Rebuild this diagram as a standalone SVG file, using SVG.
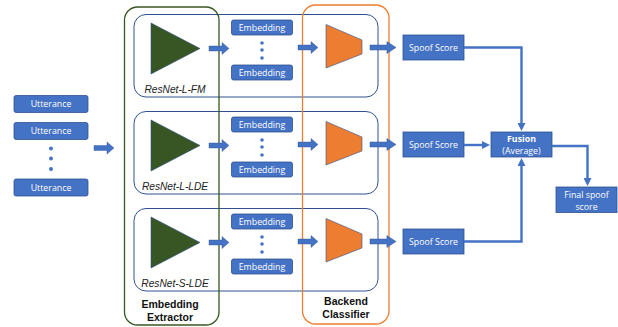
<svg xmlns="http://www.w3.org/2000/svg" width="618" height="327" viewBox="0 0 618 327">
  <defs>
    <style>
      .box { fill: #4472C4; stroke: #2F528F; stroke-width: 0.8; }
      .txt { fill: #FFFFFF; font-family: "Open Sans", "Liberation Sans", sans-serif; font-size: 8.8px; text-anchor: middle; }
      .row { fill: none; stroke: #2F528F; stroke-width: 1; }
      .net { fill: #375623; stroke: #2F528F; stroke-width: 0.6; }
      .cls { fill: #ED7D31; stroke: #2F528F; stroke-width: 0.6; }
      .blk { fill: #4472C4; stroke: #2F528F; stroke-width: 0.4; }
      .dot { fill: #4472C4; }
      .lbl { fill: #222222; font-family: "Liberation Sans", Arial, sans-serif; font-size: 10.2px; font-style: italic; text-anchor: middle; }
      .grp { fill: #111111; font-family: "Liberation Sans", Arial, sans-serif; font-size: 10.5px; font-weight: bold; text-anchor: middle; }
      .wire { fill: none; stroke: #4472C4; stroke-width: 2.4; }
    </style>
    <!-- block arrow pointing right, origin at tail centre, 20 long -->
    <path id="blk" d="M0,-2.5 H13 V-6 L20,0 L13,6 V2.5 H0 Z"/>
    <marker id="head" markerWidth="8" markerHeight="8" refX="4" refY="4" orient="auto" markerUnits="userSpaceOnUse">
      <path d="M0,0 L8,4 L0,8 Z" fill="#4472C4"/>
    </marker>
  </defs>

  <!-- input utterances -->
  <g id="utterances">
    <rect class="box" x="14" y="95.5" width="74" height="17" rx="2"/>
    <text class="txt" x="51" y="107.2">Utterance</text>
    <rect class="box" x="14" y="122.5" width="74" height="17" rx="2"/>
    <text class="txt" x="51" y="134.2">Utterance</text>
    <circle class="dot" cx="51" cy="148.5" r="2"/>
    <circle class="dot" cx="51" cy="158.5" r="2"/>
    <circle class="dot" cx="51" cy="169" r="2"/>
    <rect class="box" x="14" y="179" width="74" height="17" rx="2"/>
    <text class="txt" x="51" y="190.7">Utterance</text>
  </g>

  <!-- branch rows -->
  <g id="row-l-fm">
    <rect class="row" x="134" y="14.5" width="244" height="82.5" rx="12"/>
    <path class="net" d="M151,23 L200,48.5 L151,74 Z"/>
    <text class="lbl" x="175" y="93">ResNet-L-FM</text>
    <rect class="box" x="231.5" y="20" width="61" height="15" rx="2"/>
    <text class="txt" x="262" y="31">Embedding</text>
    <circle class="dot" cx="262" cy="43" r="1.8"/>
    <circle class="dot" cx="262" cy="50" r="1.8"/>
    <circle class="dot" cx="262" cy="58" r="1.8"/>
    <rect class="box" x="231.5" y="65" width="61" height="15" rx="2"/>
    <text class="txt" x="262" y="76">Embedding</text>
    <path class="cls" d="M326,24.5 L362,40 L362,54 L326,68 Z"/>
  </g>
  <g id="row-l-lde">
    <rect class="row" x="134" y="111.5" width="244" height="82.5" rx="12"/>
    <path class="net" d="M151,120 L200,145.5 L151,171 Z"/>
    <text class="lbl" x="175" y="190">ResNet-L-LDE</text>
    <rect class="box" x="231.5" y="117" width="61" height="15" rx="2"/>
    <text class="txt" x="262" y="128">Embedding</text>
    <circle class="dot" cx="262" cy="140" r="1.8"/>
    <circle class="dot" cx="262" cy="147" r="1.8"/>
    <circle class="dot" cx="262" cy="155" r="1.8"/>
    <rect class="box" x="231.5" y="162" width="61" height="15" rx="2"/>
    <text class="txt" x="262" y="173">Embedding</text>
    <path class="cls" d="M326,121.5 L362,137 L362,151 L326,165 Z"/>
  </g>
  <g id="row-s-lde">
    <rect class="row" x="134" y="208.5" width="244" height="82.5" rx="12"/>
    <path class="net" d="M151,217 L200,242.5 L151,268 Z"/>
    <text class="lbl" x="175" y="287">ResNet-S-LDE</text>
    <rect class="box" x="231.5" y="214" width="61" height="15" rx="2"/>
    <text class="txt" x="262" y="225">Embedding</text>
    <circle class="dot" cx="262" cy="237" r="1.8"/>
    <circle class="dot" cx="262" cy="244" r="1.8"/>
    <circle class="dot" cx="262" cy="252" r="1.8"/>
    <rect class="box" x="231.5" y="259" width="61" height="15" rx="2"/>
    <text class="txt" x="262" y="270">Embedding</text>
    <path class="cls" d="M326,218.5 L362,234 L362,248 L326,262 Z"/>
  </g>

  <!-- stage frames -->
  <g id="embedding-extractor">
    <rect x="124.5" y="7" width="94.5" height="318" rx="13" fill="none" stroke="#385723" stroke-width="1.3"/>
    <text class="grp" x="170" y="308">Embedding</text>
    <text class="grp" x="170" y="321">Extractor</text>
  </g>
  <g id="backend-classifier">
    <rect x="302.5" y="5" width="86.5" height="319" rx="13" fill="none" stroke="#ED7D31" stroke-width="1.3"/>
    <text class="grp" x="346" y="305">Backend</text>
    <text class="grp" x="346" y="318">Classifier</text>
  </g>

  <!-- scores and fusion -->
  <g id="score-1">
    <rect class="box" x="403" y="35" width="61" height="25"/>
    <text class="txt" x="433.5" y="50.7">Spoof Score</text>
  </g>
  <g id="score-2">
    <rect class="box" x="403" y="132" width="61" height="25"/>
    <text class="txt" x="433.5" y="147.7">Spoof Score</text>
  </g>
  <g id="score-3">
    <rect class="box" x="403" y="229" width="61" height="25"/>
    <text class="txt" x="433.5" y="244.7">Spoof Score</text>
  </g>
  <g id="fusion">
    <rect class="box" x="491" y="132" width="61" height="25"/>
    <text class="txt" x="521.5" y="142" font-weight="bold">Fusion</text>
    <text class="txt" x="521.5" y="154">(Average)</text>
  </g>
  <g id="final">
    <rect class="box" x="556" y="187" width="61" height="25.5"/>
    <text class="txt" x="586.5" y="197.5">Final spoof</text>
    <text class="txt" x="586.5" y="209.5">score</text>
  </g>

  <!-- connectors -->
  <g id="connectors">
    <use href="#blk" class="blk" x="94" y="148"/>
    <use href="#blk" class="blk" x="209" y="48.5"/>
    <use href="#blk" class="blk" x="209" y="145.5"/>
    <use href="#blk" class="blk" x="209" y="242.5"/>
    <use href="#blk" class="blk" x="298" y="47.5"/>
    <use href="#blk" class="blk" x="298" y="144.5"/>
    <use href="#blk" class="blk" x="298" y="241.5"/>
    <use href="#blk" class="blk" x="370" y="47.5" transform="translate(370 47.5) scale(1.3 1) translate(-370 -47.5)"/>
    <use href="#blk" class="blk" x="370" y="144.5" transform="translate(370 144.5) scale(1.3 1) translate(-370 -144.5)"/>
    <use href="#blk" class="blk" x="370" y="241.5" transform="translate(370 241.5) scale(1.3 1) translate(-370 -241.5)"/>
    <path class="wire" d="M464,47.5 H521.5 V127" marker-end="url(#head)"/>
    <path class="wire" d="M464,145 H486" marker-end="url(#head)"/>
    <path class="wire" d="M464,241.5 H521.5 V162" marker-end="url(#head)"/>
    <path class="wire" d="M552,146 H587.5 V182" marker-end="url(#head)"/>
  </g>
</svg>
